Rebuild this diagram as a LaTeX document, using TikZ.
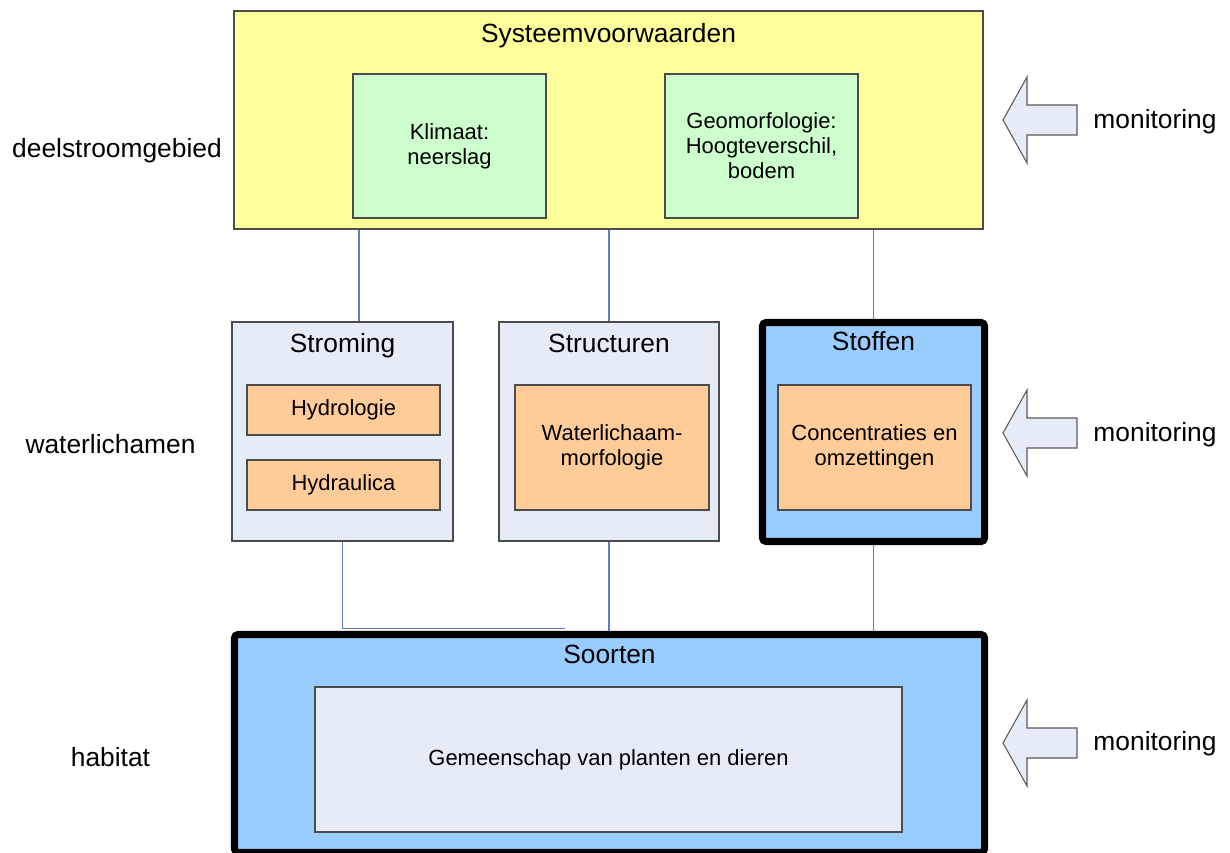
\documentclass[tikz,border=0pt]{standalone}
\usepackage{fontspec}
\setmainfont{Liberation Sans}
\usetikzlibrary{calc}
\definecolor{geel}{HTML}{FFFF99}
\definecolor{groen}{HTML}{CCFFCC}
\definecolor{grijsblauw}{HTML}{E6ECF7}
\definecolor{oranje}{HTML}{FFCC99}
\definecolor{lichtblauw}{HTML}{99CCFF}
\definecolor{lijnblauw}{HTML}{5A7EC0}

\begin{document}
\begin{tikzpicture}[x=0.02cm,y=-0.02cm,
  vak/.style 2 args={draw=black!70,line width=0.6pt,minimum width=#1*0.02cm,
    minimum height=#2*0.02cm,inner sep=0pt,align=center,
    font=\fontsize{12.5}{14.2}\selectfont},
  dikvak/.style 2 args={vak={#1}{#2},draw=black,line width=4pt,rounded corners=2pt},
  kop/.style={inner sep=0pt,anchor=base,font=\fontsize{15}{18}\selectfont},
  link/.style={draw=lijnblauw,line width=0.6pt},
  pijl/.style={draw=black!65,line width=0.6pt,fill=grijsblauw}]
\newcommand{\monpijl}[1]{\draw[pijl] (1003,#1) -- ++(24,-43) -- ++(0,28) -- ++(50,0)
  -- ++(0,30) -- ++(-50,0) -- ++(0,28) -- cycle;}
\useasboundingbox (0,0) rectangle (1230,852);

\node[vak={749}{218},fill=geel] (sys) at (608.5,120) {};
\node[kop] at ($(sys.north)+(0,32)$) {Systeemvoorwaarden};
\node[vak={193}{144},fill=groen] (klim) at (449.5,146) {Klimaat:\\neerslag};
\node[vak={193}{144},fill=groen] (geo) at (761.5,146) {Geomorfologie:\\Hoogteverschil,\\bodem};

\node[vak={221}{219},fill=grijsblauw] (strom) at (342.5,431.5) {};
\node[kop] at ($(strom.north)+(0,31.5)$) {Stroming};
\node[vak={193}{50},fill=oranje] (hydrol) at (343.5,410) {Hydrologie};
\node[vak={193}{50},fill=oranje] (hydrau) at (343.5,485) {Hydraulica};

\node[vak={220}{219},fill=grijsblauw] (struc) at (609,431.5) {};
\node[kop] at ($(struc.north)+(0,31.5)$) {Structuren};
\node[vak={194}{125},fill=oranje] (wlm) at (612,447.5) {Waterlichaam-\\morfologie};

\node[dikvak={222}{219},fill=lichtblauw] (stof) at (873.5,432) {};
\node[kop] at ($(stof.north)+(0,31.5)$) {Stoffen};
\node[vak={193}{125},fill=oranje] (conc) at (874.5,447.5) {Concentraties en\\omzettingen};

\node[dikvak={750}{218},fill=lichtblauw] (soort) at (609.5,743.5) {};
\node[kop] at ($(soort.north)+(0,32.5)$) {Soorten};
\node[vak={587}{145},fill=grijsblauw] (gem) at (608.5,759.5) {Gemeenschap van planten en dieren};

\node[kop] (deel) at (117,157) {deelstroomgebied};
\node[kop] (water) at (110.5,453) {waterlichamen};
\node[kop] (hab) at (110.5,766) {habitat};

\monpijl{120}
\monpijl{433}
\monpijl{743}
\node[kop] (mon1) at (1155,128) {monitoring};
\node[kop] (mon2) at (1155,441) {monitoring};
\node[kop] (mon3) at (1155,750) {monitoring};

\draw[link] ([xshift=0.33cm]strom.north) -- ([xshift=0.33cm]strom.north |- sys.south);
\draw[link] (struc.north) -- (struc.north |- sys.south);
\draw[link] (stof.north) -- (stof.north |- sys.south);
\draw[link] (strom.south) -- ($(strom.south |- soort.north)+(0,-2.5)$) -- ++(222,0);
\draw[link] (struc.south) -- (struc.south |- soort.north);
\draw[link] (stof.south) -- (stof.south |- soort.north);
\end{tikzpicture}
\end{document}
